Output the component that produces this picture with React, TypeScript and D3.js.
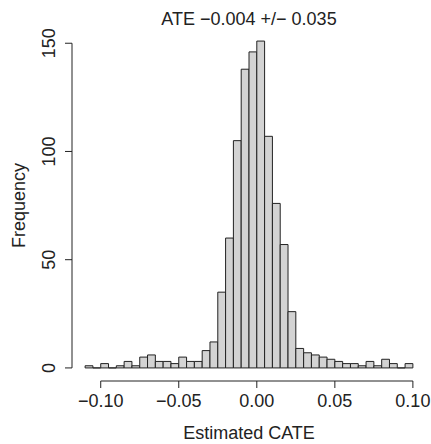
import React from "react";
import * as d3 from "d3";

const binStart = -0.11;
const binWidth = 0.005;
const counts = [1, 0, 2, 0, 1, 3, 1, 5, 6, 3, 3, 2, 5, 3, 3, 8, 12, 35, 60, 105, 138, 146, 151, 107, 76, 57, 26, 9, 7, 6, 5, 4, 3, 2, 2, 1, 3, 1, 4, 2, 0, 2];
const xTicks = [-0.1, -0.05, 0, 0.05, 0.1];
const xTickLabels = ["\u22120.10", "\u22120.05", "0.00", "0.05", "0.10"];
const yTicks = [0, 50, 100, 150];
const title = "ATE \u22120.004 +/\u2212 0.035";
const xLabel = "Estimated CATE";
const yLabel = "Frequency";

const W = 431;
const H = 444;
const FONT = "'Liberation Sans', Arial, Helvetica, sans-serif";
const FS = 18;

export default function App() {
  const bins = counts.map((c, i) => ({
    x0: binStart + i * binWidth,
    x1: binStart + (i + 1) * binWidth,
    c,
  }));
  const xMin = binStart;
  const xMax = binStart + counts.length * binWidth;
  const xPad = 0.04 * (xMax - xMin);
  const yMaxV = d3.max(counts) as number;
  const yPad = 0.04 * yMaxV;

  const left = 72, right = 426, top = 28, bottom = 381;
  const x = d3.scaleLinear().domain([xMin - xPad, xMax + xPad]).range([left, right]);
  const y = d3.scaleLinear().domain([-yPad, yMaxV + yPad]).range([bottom, top]);
  const tick = 7;

  const barPath = (b: { x0: number; x1: number; c: number }) => {
    const p = d3.path();
    p.moveTo(x(b.x0), y(0));
    p.lineTo(x(b.x0), y(b.c));
    p.lineTo(x(b.x1), y(b.c));
    p.lineTo(x(b.x1), y(0));
    p.closePath();
    return p.toString();
  };

  return (
    <svg width={W} height={H} style={{ position: "absolute", left: 0, top: 0, background: "#fff" }}>
      <rect x={0} y={0} width={W} height={H} fill="#fff" />
      {bins.map((b, i) => (
        <path key={i} d={barPath(b)} fill="#d3d3d3" stroke="#222" strokeWidth={1} />
      ))}
      {/* x axis */}
      <line x1={x(xTicks[0])} x2={x(xTicks[xTicks.length - 1])} y1={bottom} y2={bottom} stroke="#222" />
      {xTicks.map((t, i) => (
        <g key={i}>
          <line x1={x(t)} x2={x(t)} y1={bottom} y2={bottom + tick} stroke="#222" />
          <text x={x(t)} y={406.5} textAnchor="middle" fontFamily={FONT} fontSize={FS} fill="#222">
            {xTickLabels[i]}
          </text>
        </g>
      ))}
      {/* y axis */}
      <line x1={left} x2={left} y1={y(yTicks[0])} y2={y(yTicks[yTicks.length - 1])} stroke="#222" />
      {yTicks.map((t, i) => (
        <g key={i}>
          <line x1={left - tick} x2={left} y1={y(t)} y2={y(t)} stroke="#222" />
          <text
            transform={`translate(55,${y(t)}) rotate(-90)`}
            textAnchor="middle"
            fontFamily={FONT}
            fontSize={FS}
            fill="#222"
          >
            {t}
          </text>
        </g>
      ))}
      <text x={(left + right) / 2} y={25} textAnchor="middle" fontFamily={FONT} fontSize={FS} fill="#222">
        {title}
      </text>
      <text x={(left + right) / 2} y={439} textAnchor="middle" fontFamily={FONT} fontSize={FS} fill="#222">
        {xLabel}
      </text>
      <text
        transform={`translate(25,${(y(0) + y(150)) / 2}) rotate(-90)`}
        textAnchor="middle"
        fontFamily={FONT}
        fontSize={FS}
        fill="#222"
      >
        {yLabel}
      </text>
    </svg>
  );
}
